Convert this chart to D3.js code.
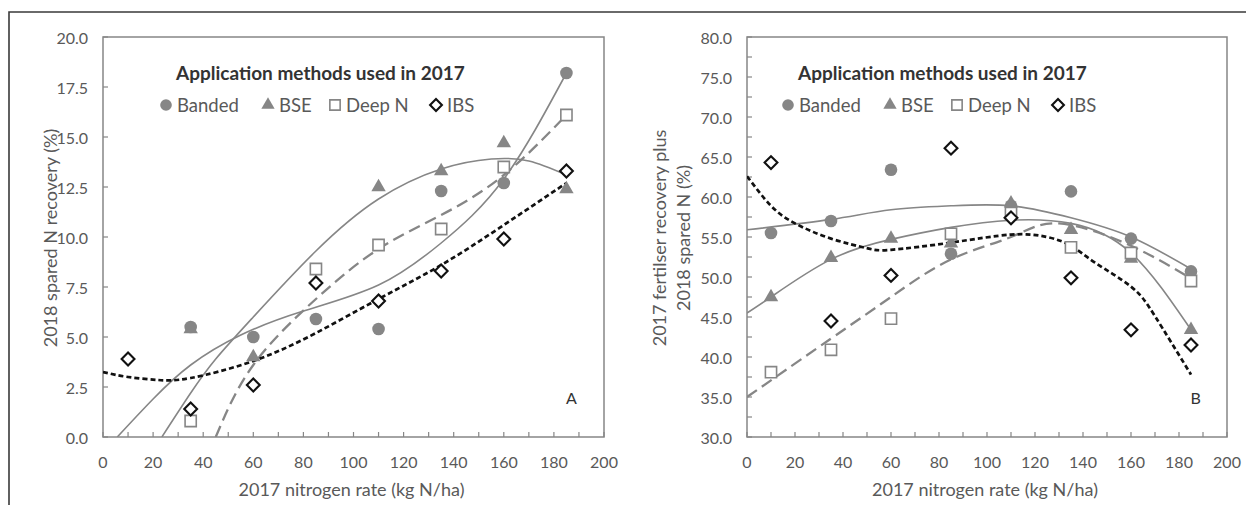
<!DOCTYPE html>
<html>
<head>
<meta charset="utf-8">
<script src="https://cdn.jsdelivr.net/npm/d3@7"></script>
<style>
  body { margin: 0; background: #fff; }
  svg { display: block; font-family: Lato, "Open Sans", sans-serif; }
</style>
</head>
<body>
<svg id="chart" width="1246" height="505"></svg>
<script>
// nitrogen rates applied in 2017
const rates = [10, 35, 60, 85, 110, 135, 160, 185];

// panel A - 2018 spared N recovery (%)
const bandedA = [null, 5.5, 5.0, 5.9, 5.4, 12.3, 12.7, 18.2];
const bseA = [null, 5.4, 4.0, null, 12.5, 13.3, 14.7, 12.4];
const deepA = [null, 0.8, null, 8.4, 9.6, 10.4, 13.5, 16.1];
const ibsA = [3.9, 1.4, 2.6, 7.7, 6.8, 8.3, 9.9, 13.3];

// panel B - 2017 fertiliser recovery plus 2018 spared N (%)
const bandedB = [55.5, 57.0, 63.4, 52.9, 58.9, 60.7, 54.8, 50.7];
const bseB = [47.5, 52.4, 54.8, 54.2, 59.2, 55.9, 52.3, 43.4];
const deepB = [38.1, 40.9, 44.8, 55.4, 58.0, 53.7, 53.0, 49.5];
const ibsB = [64.3, 44.5, 50.2, 66.1, 57.4, 49.9, 43.4, 41.5];

// trendlines ([rate, value])
const bandedTrendA = [[5.7, 0], [20, 1.9], [35, 3.6], [55, 5.1], [80, 6.3], [110, 7.6], [135, 9.7], [160, 12.9], [185, 18.2]];
const bseTrendA = [[23.5, 0], [35, 2.2], [45, 3.9], [60, 6.0], [85, 9.3], [110, 11.9], [135, 13.4], [155, 13.9], [170, 13.8], [185, 13.1]];
const deepTrendA = [[45, 0], [60, 3.6], [85, 6.9], [110, 9.4], [135, 11.1], [160, 13.1], [185, 16.1]];
const ibsTrendA = [[0, 3.25], [10, 3.0], [22, 2.85], [35, 2.95], [60, 3.8], [85, 5.2], [110, 6.9], [135, 8.6], [160, 10.6], [185, 12.7]];

const bandedTrendB = [[0, 55.9], [35, 57.2], [60, 58.4], [85, 58.9], [110, 58.9], [135, 57.4], [160, 55.0], [185, 51.0]];
const bseTrendB = [[0, 45.5], [10, 47.5], [35, 52.2], [60, 54.7], [85, 56.2], [110, 57.1], [135, 56.7], [160, 53.0], [185, 43.4]];
const deepTrendB = [[0, 35.0], [35, 42.3], [60, 47.5], [85, 52.2], [110, 55.0], [130, 56.7], [160, 53.9], [185, 49.8]];
const ibsTrendB = [[0, 62.6], [10, 58.9], [20, 56.7], [35, 54.8], [50, 53.6], [60, 53.4], [85, 54.3], [110, 55.3], [125, 55.0], [135, 53.9], [145, 51.8], [160, 48.8], [170, 45.1], [185, 37.8]];

const seriesNames = ["Banded", "BSE", "Deep N", "IBS"];
const xTickLabels = [0, 20, 40, 60, 80, 100, 120, 140, 160, 180, 200];

const svg = d3.select("#chart");
const GREY = "#868686";
const TEXT = "#595959";

// outer figure border (top + left only)
svg.append("path")
    .attr("d", "M9,505 V12 H1246")
    .attr("fill", "none")
    .attr("stroke", "#3a3a3a")
    .attr("stroke-width", 1.6);

const markerPath = (type, size) => {
    if (type === "circle") return d3.symbol(d3.symbolCircle, size)();
    if (type === "triangle") return d3.symbol(d3.symbolTriangle, size)();
    if (type === "square") return d3.symbol(d3.symbolSquare, size)();
    return d3.symbol(d3.symbolDiamond2, size)();
};

const styleMarker = (sel, type) => {
    if (type === "circle" || type === "triangle") {
        sel.attr("fill", GREY).attr("stroke", "none");
    } else if (type === "square") {
        sel.attr("fill", "#fff").attr("stroke", GREY).attr("stroke-width", 1.6);
    } else {
        sel.attr("fill", "#fff").attr("stroke", "#111").attr("stroke-width", 2.1);
    }
};

const markerTypes = ["circle", "triangle", "square", "diamond"];
const markerSizes = [125, 90, 125, 105];

const drawPanel = (p) => {
    const x = d3.scaleLinear().domain([0, 200]).range([p.left, p.right]);
    const y = d3.scaleLinear().domain(p.yDomain).range([437, 37]);
    const g = svg.append("g");
    const clipId = `clip-${p.id}`;
    g.append("clipPath").attr("id", clipId)
        .append("rect")
        .attr("x", p.left).attr("y", 37)
        .attr("width", p.right - p.left).attr("height", 400);

    // frame
    g.append("rect")
        .attr("x", p.left).attr("y", 37)
        .attr("width", p.right - p.left).attr("height", 400)
        .attr("fill", "none")
        .attr("stroke", GREY)
        .attr("stroke-width", 1.5);

    // x ticks every 10, inward
    g.selectAll(".xt")
        .data(d3.range(0, 201, 10))
        .enter()
        .append("line")
        .attr("x1", d => x(d)).attr("x2", d => x(d))
        .attr("y1", 437).attr("y2", 432)
        .attr("stroke", GREY).attr("stroke-width", 1.2);

    g.selectAll(".xl")
        .data(xTickLabels)
        .enter()
        .append("text")
        .attr("x", d => x(d))
        .attr("y", 461)
        .attr("text-anchor", "middle")
        .attr("dominant-baseline", "central")
        .attr("fill", TEXT)
        .attr("font-size", 16)
        .text(d => d);

    // y ticks every 2.5, inward
    g.selectAll(".yt")
        .data(d3.range(p.yDomain[0], p.yDomain[1] + 0.01, 2.5))
        .enter()
        .append("line")
        .attr("x1", p.left).attr("x2", p.left + 5)
        .attr("y1", d => y(d)).attr("y2", d => y(d))
        .attr("stroke", GREY).attr("stroke-width", 1.2);

    g.selectAll(".yl")
        .data(p.yLabels)
        .enter()
        .append("text")
        .attr("x", p.left - 15)
        .attr("y", d => y(d))
        .attr("text-anchor", "end")
        .attr("dominant-baseline", "central")
        .attr("fill", TEXT)
        .attr("font-size", 16)
        .text(d => d.toFixed(1));

    // axis titles
    g.append("text")
        .attr("x", (p.left + p.right) / 2 - 2)
        .attr("y", 489)
        .attr("text-anchor", "middle")
        .attr("dominant-baseline", "central")
        .attr("fill", TEXT)
        .attr("font-size", 18)
        .text("2017 nitrogen rate (kg N/ha)");

    p.yTitle.forEach((t, i) => {
        g.append("text")
            .attr("transform", `translate(${p.yTitleX[i]},238) rotate(-90)`)
            .attr("text-anchor", "middle")
            .attr("dominant-baseline", "central")
            .attr("fill", TEXT)
            .attr("font-size", 18)
            .text(t);
    });

    // trendlines
    const line = d3.line()
        .curve(d3.curveNatural)
        .x(d => x(d[0]))
        .y(d => y(d[1]));
    const lineStyles = [
        { stroke: GREY, width: 1.6, dash: null },
        { stroke: GREY, width: 1.6, dash: null },
        { stroke: GREY, width: 2.3, dash: "12,6" },
        { stroke: "#111", width: 2.7, dash: "5,3" },
    ];
    const lines = g.append("g").attr("clip-path", `url(#${clipId})`);
    p.trends.forEach((tr, i) => {
        lines.append("path")
            .attr("d", line(tr))
            .attr("fill", "none")
            .attr("stroke", lineStyles[i].stroke)
            .attr("stroke-width", lineStyles[i].width)
            .attr("stroke-dasharray", lineStyles[i].dash);
    });

    // points
    p.series.forEach((vals, i) => {
        const pts = rates.map((r, j) => [r, vals[j]]).filter(d => d[1] !== null);
        g.append("g")
            .selectAll("path")
            .data(pts)
            .enter()
            .append("path")
            .attr("d", markerPath(markerTypes[i], markerSizes[i]))
            .attr("transform", d => `translate(${x(d[0])},${y(d[1])})`)
            .call(styleMarker, markerTypes[i]);
    });

    // legend
    const lg = g.append("g");
    lg.append("text")
        .attr("x", p.legendX + 10)
        .attr("y", 72)
        .attr("dominant-baseline", "central")
        .attr("fill", "#333")
        .attr("font-size", 19)
        .attr("font-weight", 700)
        .text("Application methods used in 2017");
    const offs = [0, 102, 169, 270];
    seriesNames.forEach((name, i) => {
        lg.append("path")
            .attr("d", markerPath(markerTypes[i], markerSizes[i] * 0.85))
            .attr("transform", `translate(${p.legendX + offs[i]},105)`)
            .call(styleMarker, markerTypes[i]);
        lg.append("text")
            .attr("x", p.legendX + offs[i] + 11)
            .attr("y", 105)
            .attr("dominant-baseline", "central")
            .attr("fill", TEXT)
            .attr("font-size", 18.5)
            .text(name);
    });

    // panel letter
    g.append("text")
        .attr("x", x(p.letterAt))
        .attr("y", 397)
        .attr("text-anchor", "middle")
        .attr("dominant-baseline", "central")
        .attr("fill", "#333")
        .attr("font-size", 16)
        .text(p.letter);
};

drawPanel({
    id: "a", left: 103, right: 604, yDomain: [0, 20],
    yLabels: d3.range(0, 20.01, 2.5),
    yTitle: ["2018 spared N recovery (%)"], yTitleX: [50],
    series: [bandedA, bseA, deepA, ibsA],
    trends: [bandedTrendA, bseTrendA, deepTrendA, ibsTrendA],
    legendX: 166, letter: "A", letterAt: 187,
});

drawPanel({
    id: "b", left: 747, right: 1227, yDomain: [30, 80],
    yLabels: d3.range(30, 80.01, 5),
    yTitle: ["2017 fertilser recovery plus", "2018 spared N (%)"], yTitleX: [659, 683],
    series: [bandedB, bseB, deepB, ibsB],
    trends: [bandedTrendB, bseTrendB, deepTrendB, ibsTrendB],
    legendX: 788, letter: "B", letterAt: 187,
});
</script>
</body>
</html>
